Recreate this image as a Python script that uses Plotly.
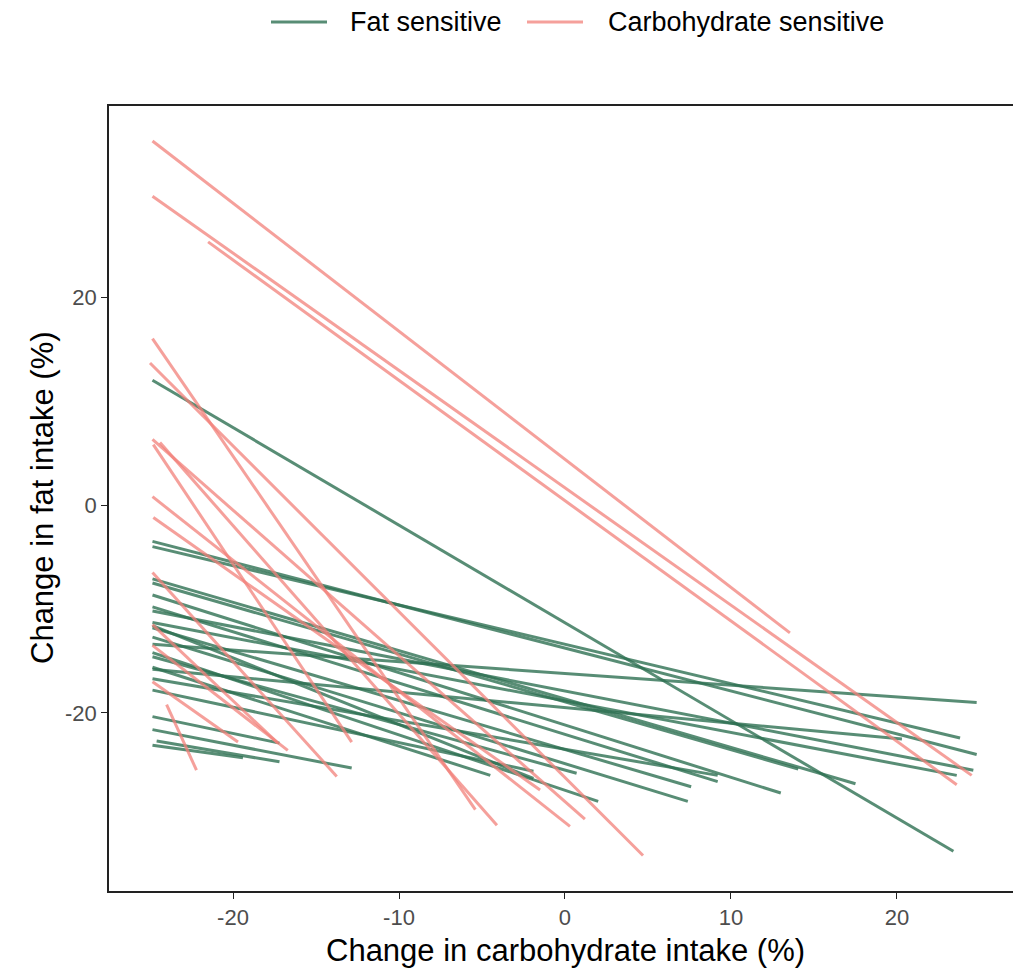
import plotly.graph_objects as go

# Fat sensitive subjects: start (x0, y0) and end (x1, y1) of each line
fat_x0 = [-24.85, -24.85, -24.85, -24.85, -24.85, -24.85, -24.85, -24.85, -24.85, -24.85,
          -24.85, -24.85, -24.85, -24.85, -24.85, -24.85, -24.85, -24.85, -24.85, -24.85,
          -24.6, -24.85, -24.85]
fat_y0 = [12.0, -3.5, -4.0, -13.4, -10.2, -11.3, -15.8, -7.1, -7.5, -8.65,
          -9.8, -11.8, -12.7, -11.6, -14.2, -15.6, -14.6, -20.35, -21.6, -23.1,
          -22.7, -16.7, -17.8]
fat_x1 = [23.4, 24.8, 23.8, 24.8, 24.6, 23.6, 20.3, 17.5, 14.05, 13.0,
          9.2, 7.6, 7.4, -1.9, 2.0, -4.5, 0.7, -17.2, -12.85, -19.4,
          -17.2, 9.2, -1.9]
fat_y1 = [-33.3, -24.0, -22.4, -19.0, -25.5, -26.0, -22.5, -26.8, -25.4, -27.7,
          -26.6, -27.1, -28.5, -26.3, -28.5, -26.0, -25.8, -22.9, -25.3, -24.3,
          -24.7, -26.0, -25.6]

# Carbohydrate sensitive subjects
carb_x0 = [-24.85, -24.85, -21.5, -24.85, -25.0, -24.8, -24.4, -24.85, -24.8, -24.85,
           -24.85, -24.85, -24.85, -24.0, -24.85]
carb_y0 = [35.0, 29.7, 25.3, 16.0, 13.65, 5.8, 6.0, 0.8, -1.2, -6.5,
           -11.5, -13.5, -17.0, -19.2, 6.3]
carb_x1 = [13.55, 24.5, 23.6, -5.4, 4.7, -12.85, -4.1, 0.3, -1.5, -13.75,
           -17.3, -16.7, -19.7, -22.2, 1.2]
carb_y1 = [-12.3, -26.0, -26.9, -29.3, -33.7, -22.8, -30.8, -30.9, -27.4, -26.1,
           -22.9, -23.6, -22.8, -25.5, -30.2]

x_ticks = [-20, -10, 0, 10, 20]
x_ticktext = ["-20", "-10", "0", "10", "20"]
y_ticks = [-20, 0, 20]
y_ticktext = ["-20", "0", "20"]

GREEN = "rgba(46,112,82,0.8)"
PINK = "rgba(242,128,122,0.75)"
groups = [
    ("Fat sensitive", GREEN, fat_x0, fat_y0, fat_x1, fat_y1),
    ("Carbohydrate sensitive", PINK, carb_x0, carb_y0, carb_x1, carb_y1),
]

FONT = "Liberation Sans, Arial, sans-serif"

# Figure sits 8px in from the page corner, so size/margins compensate for that.
W, H = 1013, 964
ML, MR, MT, MB = 101, 3, 98, 81
PW, PH = W - ML - MR, H - MT - MB


def px_x(p):
    return (p - ML) / PW


def px_y(p):
    return (H - MB - p) / PH


fig = go.Figure()
for name, color, x0s, y0s, x1s, y1s in groups:
    for a, b, c, d in zip(x0s, y0s, x1s, y1s):
        fig.add_trace(go.Scatter(
            x=[a, c], y=[b, d], mode="lines",
            line=dict(color=color, width=3),
            name=name, legendgroup=name, showlegend=False,
            hoverinfo="skip",
        ))

axis_common = dict(
    showgrid=False, zeroline=False, automargin=False,
    showline=True, linecolor="#222222", linewidth=1.6, mirror=True,
    ticks="outside", ticklen=6, tickwidth=1.4, tickcolor="#222222",
    tickfont=dict(family=FONT, size=22, color="#4D4D4D"),
)

# legend drawn as key lines + labels above the panel
legend_y = px_y(14)
shapes = [
    dict(type="line", xref="paper", yref="paper", x0=px_x(263), x1=px_x(319),
         y0=legend_y, y1=legend_y, line=dict(color=GREEN, width=3)),
    dict(type="line", xref="paper", yref="paper", x0=px_x(519), x1=px_x(575),
         y0=legend_y, y1=legend_y, line=dict(color=PINK, width=3)),
]

annotations = [
    dict(text="Fat sensitive", xref="paper", yref="paper", x=px_x(340), y=legend_y,
         xanchor="left", yanchor="middle", showarrow=False,
         font=dict(family=FONT, size=27, color="black")),
    dict(text="Carbohydrate sensitive", xref="paper", yref="paper", x=px_x(598), y=legend_y,
         xanchor="left", yanchor="middle", showarrow=False,
         font=dict(family=FONT, size=27, color="black")),
    dict(text="Change in carbohydrate intake (%)", xref="paper", yref="paper",
         x=px_x(557), y=px_y(942), xanchor="center", yanchor="middle",
         showarrow=False, font=dict(family=FONT, size=31, color="black")),
    dict(text="Change in fat intake (%)", xref="paper", yref="paper",
         x=px_x(34), y=px_y(490), xanchor="center", yanchor="middle",
         textangle=-90, showarrow=False, font=dict(family=FONT, size=31, color="black")),
]

fig.update_layout(
    width=W, height=H,
    margin=dict(l=ML, r=MR, t=MT, b=MB),
    paper_bgcolor="white", plot_bgcolor="white",
    font=dict(family=FONT, color="black"),
    showlegend=False,
    xaxis=dict(range=[-27.47, 27.29], tickvals=x_ticks, ticktext=x_ticktext, **axis_common),
    yaxis=dict(range=[-37.12, 38.37], tickvals=y_ticks, ticktext=y_ticktext, **axis_common),
    shapes=shapes,
    annotations=annotations,
)

fig.write_html("out.html")
